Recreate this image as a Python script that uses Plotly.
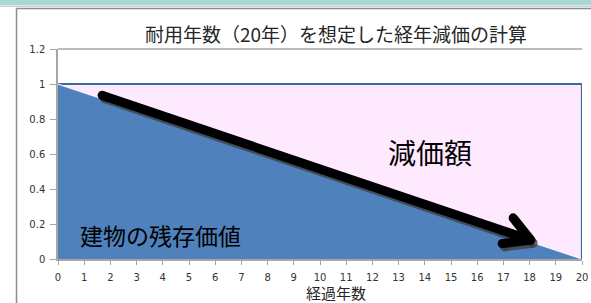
import plotly.graph_objects as go

# ---- data ----
years = list(range(0, 21))
total_value = [1.0] * 21
residual_value = [1.0, 0.95, 0.9, 0.85, 0.8, 0.75, 0.7, 0.65, 0.6, 0.55, 0.5,
                  0.45, 0.4, 0.35, 0.3, 0.25, 0.2, 0.15, 0.1, 0.05, 0.0]
y_ticks = [0, 0.2, 0.4, 0.6, 0.8, 1, 1.2]
y_tick_labels = ["0", "0.2", "0.4", "0.6", "0.8", "1", "1.2"]
title_text = "耐用年数（20年）を想定した経年減価の計算"
x_title = "経過年数"
label_depr = "減価額"
label_resid = "建物の残存価値"

# arrow (annotation) in data coords: start, tip, head arm ends
arrow_start = (1.68, 0.935)
arrow_tip = (18.05, 0.108)
arm_up = (17.37, 0.235)
arm_low = (16.95, 0.088)

W, H = 591, 303
L, R, T, B = 58, 582, 49, 259

def px(xp):
    return (xp - L) / (R - L)

def py(yp):
    return (B - yp) / (B - T)

fig = go.Figure()
fig.add_trace(go.Scatter(x=years, y=total_value, mode="lines", fill="tozeroy",
                         fillcolor="#FFE9FF", line=dict(color="#3A6AA3", width=2.2),
                         hoverinfo="skip", showlegend=False))
fig.add_trace(go.Scatter(x=years, y=residual_value, mode="lines", fill="tozeroy",
                         fillcolor="#4F81BD", line=dict(color="rgba(255,255,255,0.85)", width=1.2),
                         hoverinfo="skip", showlegend=False))

shapes = []
# right edge of depreciation area
shapes.append(dict(type="line", xref="x", yref="y", x0=years[-1], x1=years[-1],
                   y0=0, y1=total_value[-1], line=dict(color="#3A6AA3", width=2.2)))
# arrow shadow + arrow
dx, dy = 0.09, -0.018
r_x, r_y = 0.17, 0.026  # cap radius in data units (~4.5px)
for off, col in [((dx, dy), "rgba(60,60,60,0.75)"), ((0, 0), "black")]:
    for a, b in [(arrow_start, arrow_tip), (arm_up, arrow_tip), (arm_low, arrow_tip)]:
        shapes.append(dict(type="line", xref="x", yref="y",
                           x0=a[0] + off[0], y0=a[1] + off[1],
                           x1=b[0] + off[0], y1=b[1] + off[1],
                           line=dict(color=col, width=9)))
    for p in [arrow_start, arrow_tip, arm_up, arm_low]:
        shapes.append(dict(type="circle", xref="x", yref="y",
                           x0=p[0] + off[0] - r_x, x1=p[0] + off[0] + r_x,
                           y0=p[1] + off[1] - r_y, y1=p[1] + off[1] + r_y,
                           fillcolor=col, line=dict(width=0)))
# plot area top line
shapes.append(dict(type="line", xref="paper", yref="paper", x0=0, x1=1, y0=1, y1=1,
                   line=dict(color="#A6A6A6", width=1.5)))
# teal top bar
shapes.append(dict(type="rect", xref="paper", yref="paper", x0=px(-5), x1=px(W + 5),
                   y0=py(-4), y1=py(5.5), fillcolor="#A9D9D1", line=dict(width=0)))
shapes.append(dict(type="line", xref="paper", yref="paper", x0=px(0), x1=px(W),
                   y0=py(6.5), y1=py(6.5), line=dict(color="#D0D0D0", width=1)))
# outer frame
shapes.append(dict(type="line", xref="paper", yref="paper", x0=px(16.5), x1=px(W),
                   y0=py(8.5), y1=py(8.5), line=dict(color="#8C8C8C", width=1.5)))
shapes.append(dict(type="line", xref="paper", yref="paper", x0=px(16.5), x1=px(16.5),
                   y0=py(8.5), y1=py(H + 5), line=dict(color="#8C8C8C", width=1.5)))

annotations = [
    dict(text=title_text, xref="paper", yref="paper", x=px(336), y=py(33),
         xanchor="center", yanchor="middle", showarrow=False,
         font=dict(family="Noto Sans CJK JP", size=19, color="#262626")),
    dict(text=x_title, xref="paper", yref="paper", x=px(336), y=py(292),
         xanchor="center", yanchor="middle", showarrow=False,
         font=dict(family="Noto Sans CJK JP", size=15, color="#262626")),
    dict(text=label_depr, xref="x", yref="y", x=14.2, y=0.61, showarrow=False,
         xanchor="center", yanchor="middle",
         font=dict(family="Noto Sans CJK JP", size=28, color="black")),
    dict(text=label_resid, xref="x", yref="y", x=3.93, y=0.14, showarrow=False,
         xanchor="center", yanchor="middle",
         font=dict(family="Noto Sans CJK JP", size=23, color="black")),
]

fig.update_layout(
    width=W, height=H, autosize=False,
    margin=dict(l=L, r=W - R, t=T, b=H - B, pad=0),
    paper_bgcolor="white", plot_bgcolor="white",
    shapes=shapes, annotations=annotations, showlegend=False,
    xaxis=dict(range=[0, 20], tickmode="array", tickvals=years,
               ticktext=[str(v) for v in years], ticks="outside", ticklen=4,
               tickcolor="#A6A6A6", showgrid=False, zeroline=False, automargin=False,
               showline=True, linecolor="#A6A6A6", linewidth=1.5, ticklabelstandoff=4,
               tickfont=dict(family="DejaVu Sans", size=10, color="#333333")),
    yaxis=dict(range=[0, 1.2], tickmode="array", tickvals=y_ticks, ticktext=y_tick_labels,
               ticks="outside", ticklen=6, tickcolor="#A6A6A6", showgrid=False,
               zeroline=False, showline=True, linecolor="#A6A6A6", linewidth=1.5,
               automargin=False, ticklabelstandoff=3,
               tickfont=dict(family="DejaVu Sans", size=10, color="#333333")),
)
fig.write_html("out.html", config={"displayModeBar": False},
               post_script="document.body.style.margin='0';document.body.style.padding='0';")
